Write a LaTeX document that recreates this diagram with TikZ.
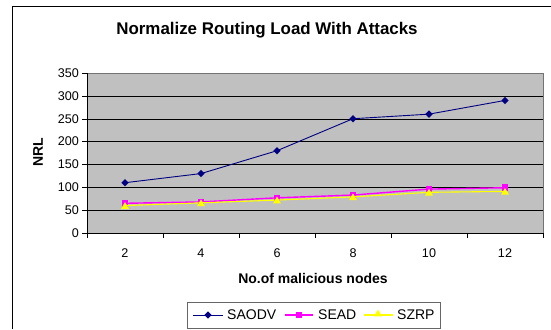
\documentclass[tikz,border=0pt]{standalone}
\usepackage{fontspec}
\setmainfont{Liberation Sans}
\usetikzlibrary{positioning, shapes.geometric}
\definecolor{plotgray}{RGB}{192,192,192}
\definecolor{saodvblue}{RGB}{0,0,128}
\definecolor{seadpink}{RGB}{255,0,255}
\definecolor{szrpyellow}{RGB}{255,255,0}
\newcommand\nrly[1]{233-#1*0.457143}
\newcommand\catx[1]{87+76*#1-38}
\tikzset{
  titletext/.style={font=\fontsize{16.9}{18}\selectfont\bfseries},
  axistext/.style={font=\fontsize{14}{16}\selectfont\bfseries},
  ticktext/.style={font=\fontsize{12.6}{14}\selectfont, inner sep=1pt},
  legendtext/.style={font=\fontsize{14}{16}\selectfont, inner sep=1pt, anchor=west},
  saodvline/.style={draw=saodvblue, line width=0.9pt},
  seadline/.style={draw=seadpink, line width=1.4pt},
  szrpline/.style={draw=szrpyellow, line width=1.1pt},
  saodvpt/.style={diamond, fill=saodvblue, inner sep=0pt, minimum size=7.5pt},
  seadpt/.style={rectangle, fill=seadpink, inner sep=0pt, minimum size=6.5pt},
  szrppt/.style={regular polygon, regular polygon sides=3, fill=szrpyellow, inner sep=0pt, minimum size=9pt},
}
\begin{document}
\begin{tikzpicture}[x=1pt,y=-1pt]
\useasboundingbox (0,0) rectangle (551,329);
% chart frame and title
\draw[line width=0.8pt] (12,329) -- (12,6) -- (551,6);
\node[titletext] (title) at (267,30) {Normalize Routing Load With Attacks};

% plot area
\fill[plotgray] (87,73) rectangle (543,233);
\foreach \v in {50,100,...,300} \draw (87,{\nrly{\v}}) -- (543,{\nrly{\v}});
\draw[black!55] (87,73) -- (543,73) -- (543,233);
\draw (87,73) -- (87,233) -- (543,233);
\foreach \v in {0,50,...,350}{
  \draw (82,{\nrly{\v}}) -- (87,{\nrly{\v}});
  \node[ticktext, anchor=east] (y\v) at (80,{\nrly{\v}}) {\v};
}
\foreach \i in {0,...,6} \draw (87+76*\i,233) -- (87+76*\i,238);
\foreach \n [count=\i] in {2,4,...,12} \node[ticktext] (x\n) at ({\catx{\i}},253) {\n};

% axis titles
\node[axistext] (xtitle) at (313,278) {No.of malicious nodes};
\node[axistext, rotate=90] (ytitle) at (38,152) {NRL};

% data
\foreach \a/\b/\c [count=\i] in {110/65/60, 130/68/66, 180/77/72, 250/83/79, 260/96/89, 290/99/91}{
  \coordinate (saodv\i) at ({\catx{\i}},{\nrly{\a}});
  \coordinate (sead\i) at ({\catx{\i}},{\nrly{\b}});
  \coordinate (szrp\i) at ({\catx{\i}},{\nrly{\c}});
}
\draw[saodvline] (saodv1) -- (saodv2) -- (saodv3) -- (saodv4) -- (saodv5) -- (saodv6);
\foreach \i in {1,...,6} \node[saodvpt] (saodvm\i) at (saodv\i) {};
\draw[seadline] (sead1) -- (sead2) -- (sead3) -- (sead4) -- (sead5) -- (sead6);
\foreach \i in {1,...,6} \node[seadpt] (seadm\i) at (sead\i) {};
\draw[szrpline] (szrp1) -- (szrp2) -- (szrp3) -- (szrp4) -- (szrp5) -- (szrp6);
\foreach \i in {1,...,6} \node[szrppt] (szrpm\i) at ([yshift=-1pt]szrp\i) {};

% legend
\draw[black!60, line width=0.8pt] (187,302) rectangle (440,328);
\coordinate (la) at (193,315); \coordinate (lb) at (223,315);
\draw[saodvline] (la) -- (lb);
\node[saodvpt] (lam) at (208,315) {};
\node[legendtext] (lsaodv) at (226,315) {SAODV};
\coordinate (lc) at (285,315); \coordinate (ld) at (313,315);
\draw[seadline] (lc) -- (ld);
\node[seadpt] (lcm) at (299,315) {};
\node[legendtext] (lsead) at (317,315) {SEAD};
\coordinate (le) at (364,315); \coordinate (lf) at (393,315);
\draw[szrpline] (le) -- (lf);
\node[szrppt] (lem) at (378,314) {};
\node[legendtext] (lszrp) at (396,315) {SZRP};
\end{tikzpicture}
\end{document}
